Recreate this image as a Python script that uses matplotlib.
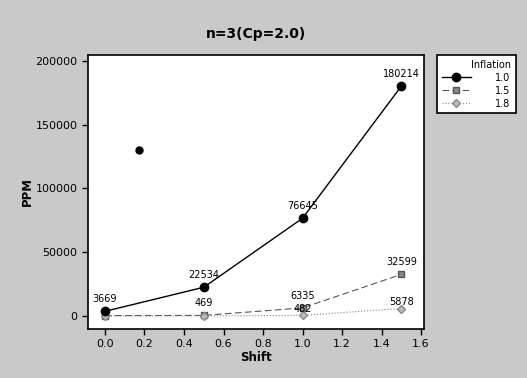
import matplotlib
matplotlib.use('Agg')
import matplotlib.pyplot as plt

# data
shift = [0.0, 0.5, 1.0, 1.5]
ppm_10 = [3669, 22534, 76645, 180214]
ppm_15 = [300, 469, 6335, 32599]
ppm_18 = [0, 49, 482, 5878]
labels_10 = ['3669', '22534', '76645', '180214']
labels_15 = ['', '469', '6335', '32599']
labels_18 = ['', '', '482', '5878']
stray_x = [0.17]
stray_y = [130000]

plt.rcParams['font.family'] = ['DejaVu Sans']

fig = plt.figure(figsize=(5.27, 3.78), dpi=100)
fig.patch.set_facecolor('#c9c9c9')
ax = fig.add_axes([88/527, 1 - 329/378, (424-88)/527, (329-55)/378])
ax.set_facecolor('white')

ax.plot(shift, ppm_10, '-o', color='black', lw=1.0, ms=6, label='1.0', zorder=3)
ax.plot(shift, ppm_15, '--s', color='#555555', lw=0.8, ms=4.5,
        markerfacecolor='#888888', markeredgecolor='#555555', dashes=(6, 3), label='1.5')
ax.plot(shift, ppm_18, ':D', color='#888888', lw=0.8, ms=4,
        markerfacecolor='#bbbbbb', markeredgecolor='#888888', label='1.8')
ax.plot(stray_x, stray_y, 'o', color='black', ms=5)

for x, y, t in zip(shift, ppm_10, labels_10):
    ax.annotate(t, (x, y), xytext=(0, 5), textcoords='offset points',
                ha='center', va='bottom', fontsize=7)
for x, y, t in zip(shift, ppm_15, labels_15):
    if t:
        ax.annotate(t, (x, y), xytext=(0, 5), textcoords='offset points',
                    ha='center', va='bottom', fontsize=7)
for x, y, t in zip(shift, ppm_18, labels_18):
    if t:
        ax.annotate(t, (x, y), xytext=(0, 1), textcoords='offset points',
                    ha='center', va='bottom', fontsize=7)

ax.set_xlim(-0.086, 1.615)
ax.set_ylim(-10200, 204700)
ax.set_xticks([0.0, 0.2, 0.4, 0.6, 0.8, 1.0, 1.2, 1.4, 1.6])
ax.set_xticklabels(['0.0', '0.2', '0.4', '0.6', '0.8', '1.0', '1.2', '1.4', '1.6'])
ax.set_yticks([0, 50000, 100000, 150000, 200000])
ax.tick_params(labelsize=8, length=4, width=1)
for s in ax.spines.values():
    s.set_linewidth(1.2)

ax.set_xlabel('Shift', fontsize=8.5, fontweight='bold', labelpad=1)
ax.set_ylabel('PPM', fontsize=8.5, fontweight='bold', labelpad=1)
ax.set_title('n=3(Cp=2.0)', fontsize=10, fontweight='bold', pad=12)

leg = fig.legend(loc='upper left', bbox_to_anchor=(437/527, 1 - 55/378),
                 title='Inflation', fontsize=7, title_fontsize=7,
                 frameon=True, fancybox=False, edgecolor='black',
                 facecolor='white', framealpha=1,
                 alignment='right', handlelength=3.0, handletextpad=2.5,
                 borderpad=0.5, labelspacing=0.3, borderaxespad=0)
leg.get_frame().set_linewidth(1.2)

fig.savefig('out.png', dpi=100, facecolor=fig.get_facecolor())
